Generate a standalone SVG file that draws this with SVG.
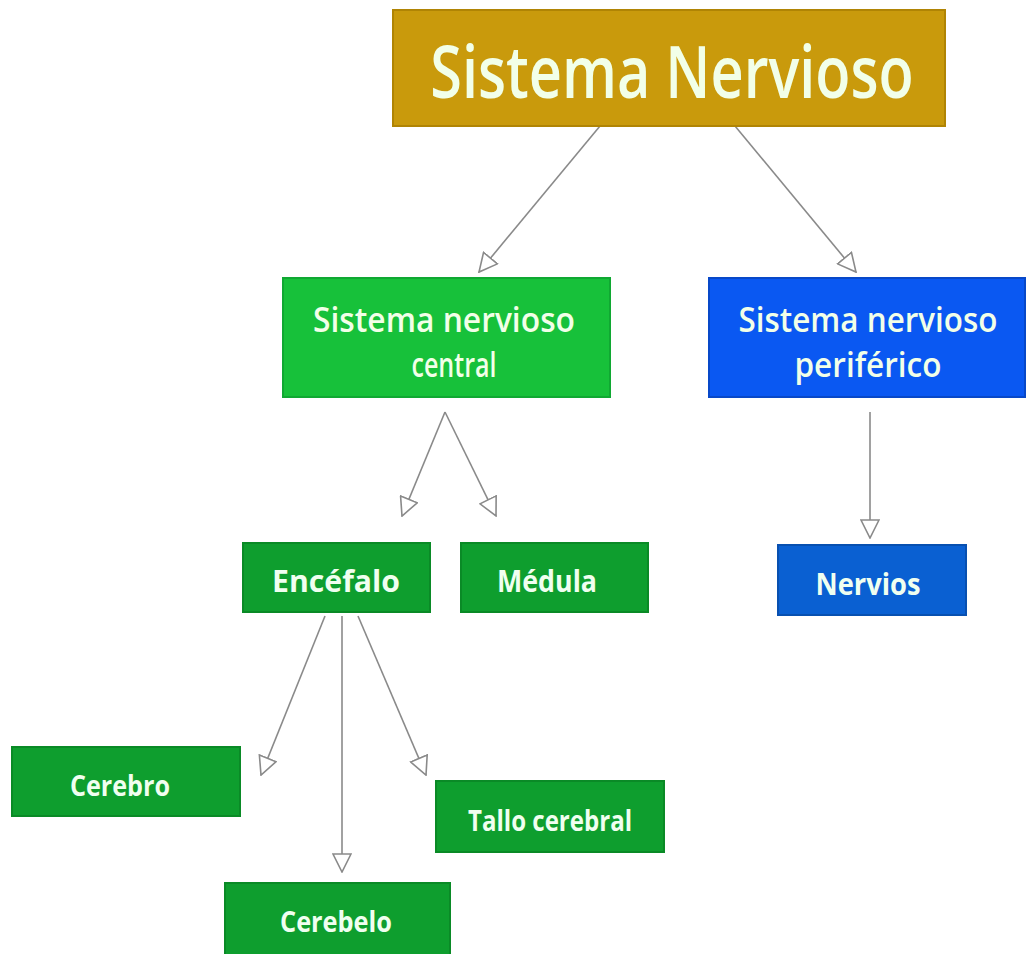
<svg xmlns="http://www.w3.org/2000/svg" width="1026" height="954" viewBox="0 0 1026 954">
<defs>
<marker id="tri" viewBox="0 0 20 20" refX="19" refY="10" markerWidth="20" markerHeight="20" markerUnits="userSpaceOnUse" orient="auto">
<path d="M1,1 L19,10 L1,19 Z" fill="#fff" stroke="#8a8a8a" stroke-width="1.6"/>
</marker>
</defs>
<style>
.t{font-family:"Open Sans","Liberation Sans",sans-serif;font-weight:600;fill:#f2ffe8;text-anchor:middle}
.tb{font-family:"Open Sans","Liberation Sans",sans-serif;font-weight:700;fill:#f0fff0;text-anchor:middle}
.c{stroke:#8a8a8a;stroke-width:1.6;fill:none;marker-end:url(#tri)}
.g1{fill:#17c13a;stroke:#10a832;stroke-width:2}
.g2{fill:#0e9e2e;stroke:#0a8a26;stroke-width:2}
.b1{fill:#0a58f2;stroke:#0848c8;stroke-width:2}
.b2{fill:#0a60d2;stroke:#0850b0;stroke-width:2}
</style>
<rect width="1026" height="954" fill="#ffffff"/>
<g id="connectors">
<line class="c" x1="600" y1="126" x2="479" y2="272"/>
<line class="c" x1="735" y1="126" x2="856" y2="272"/>
<line class="c" x1="445" y1="412" x2="402" y2="516"/>
<line class="c" x1="445" y1="412" x2="496" y2="516"/>
<line class="c" x1="870" y1="412" x2="870" y2="538"/>
<line class="c" x1="325" y1="616" x2="261" y2="775"/>
<line class="c" x1="342" y1="616" x2="342" y2="872"/>
<line class="c" x1="358" y1="616" x2="426" y2="775"/>
</g>
<g id="n-sistema">
<rect x="393" y="10" width="552" height="116" fill="#c99a0c" stroke="#b08404" stroke-width="2"/>
<text class="t" transform="translate(672 98) scale(0.8 1)" x="0" y="0" font-size="72" font-weight="400">Sistema Nervioso</text>
</g>
<g id="n-snc">
<rect x="283" y="278" width="327" height="119" class="g1"/>
<text class="t" x="444" y="332" font-size="34" textLength="262" lengthAdjust="spacingAndGlyphs">Sistema nervioso</text>
<text class="t" x="454" y="377" font-size="34" textLength="85" lengthAdjust="spacingAndGlyphs">central</text>
</g>
<g id="n-snp">
<rect x="709" y="278" width="316" height="119" class="b1"/>
<text class="t" x="868" y="332" font-size="34" textLength="259" lengthAdjust="spacingAndGlyphs">Sistema nervioso</text>
<text class="t" x="868" y="377" font-size="34" textLength="147" lengthAdjust="spacingAndGlyphs">periférico</text>
</g>
<g id="n-encefalo">
<rect x="243" y="543" width="187" height="69" class="g2"/>
<text class="tb" x="336" y="592" font-size="30" textLength="128" lengthAdjust="spacingAndGlyphs">Encéfalo</text>
</g>
<g id="n-medula">
<rect x="461" y="543" width="187" height="69" class="g2"/>
<text class="tb" x="547" y="592" font-size="30" textLength="100" lengthAdjust="spacingAndGlyphs">Médula</text>
</g>
<g id="n-nervios">
<rect x="778" y="545" width="188" height="70" class="b2"/>
<text class="tb" x="868" y="595" font-size="30" textLength="105" lengthAdjust="spacingAndGlyphs">Nervios</text>
</g>
<g id="n-cerebro">
<rect x="12" y="747" width="228" height="69" class="g2"/>
<text class="tb" x="120" y="796" font-size="28" textLength="100" lengthAdjust="spacingAndGlyphs">Cerebro</text>
</g>
<g id="n-tallo">
<rect x="436" y="781" width="228" height="71" class="g2"/>
<text class="tb" x="550" y="831" font-size="28" textLength="164" lengthAdjust="spacingAndGlyphs">Tallo cerebral</text>
</g>
<g id="n-cerebelo">
<rect x="225" y="883" width="225" height="72" class="g2"/>
<text class="tb" x="336" y="932" font-size="28" textLength="112" lengthAdjust="spacingAndGlyphs">Cerebelo</text>
</g>
</svg>
